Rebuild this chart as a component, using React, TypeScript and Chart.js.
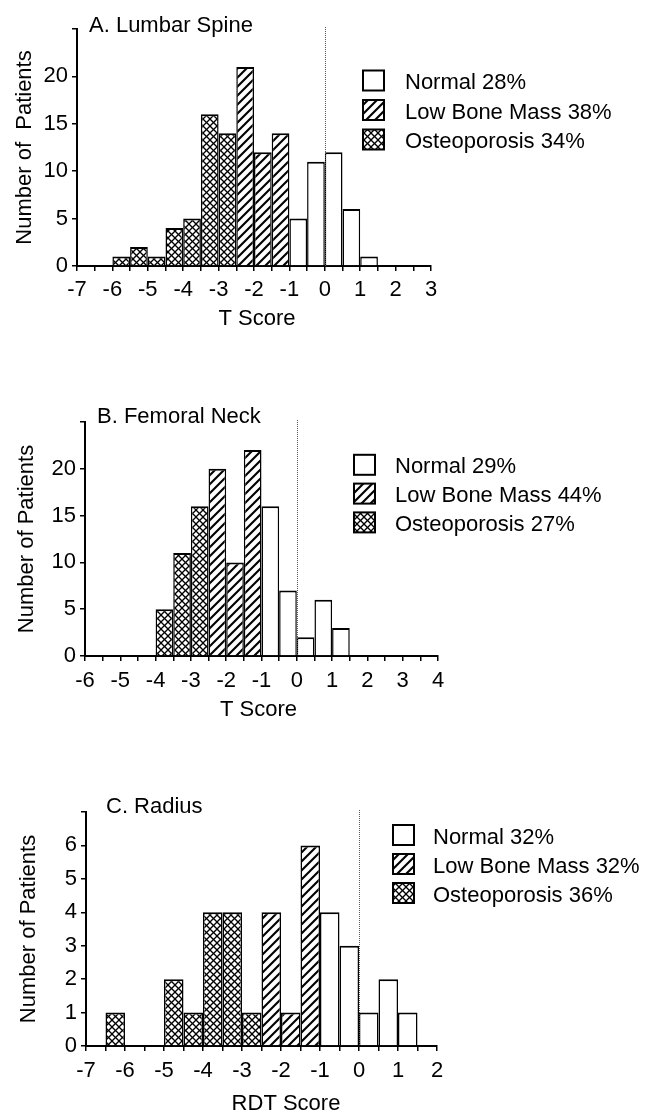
import React, { useEffect, useRef } from 'react';
import { Chart, registerables } from 'chart.js';

Chart.register(...registerables);

const FONT = '"Liberation Sans", Arial, Helvetica, sans-serif';

const legendCategories = ['Normal', 'Low Bone Mass', 'Osteoporosis'];

// A. Lumbar Spine (bin centres of 0.5-wide bins)
const lumbarOsteoBins = [-5.75, -5.25, -4.75, -4.25, -3.75, -3.25, -2.75];
const lumbarOsteoCounts = [1, 2, 1, 4, 5, 16, 14];
const lumbarLowBins = [-2.25, -1.75, -1.25];
const lumbarLowCounts = [21, 12, 14];
const lumbarNormalBins = [-0.75, -0.25, 0.25, 0.75, 1.25];
const lumbarNormalCounts = [5, 11, 12, 6, 1];
const lumbarPercents = [28, 38, 34];
const lumbarXRange = [-7, 3];
const lumbarYRange = [0, 25, 5];

// B. Femoral Neck
const femoralOsteoBins = [-3.75, -3.25, -2.75];
const femoralOsteoCounts = [5, 11, 16];
const femoralLowBins = [-2.25, -1.75, -1.25];
const femoralLowCounts = [20, 10, 22];
const femoralNormalBins = [-0.75, -0.25, 0.25, 0.75, 1.25];
const femoralNormalCounts = [16, 7, 2, 6, 3];
const femoralPercents = [29, 44, 27];
const femoralXRange = [-6, 4];
const femoralYRange = [0, 25, 5];

// C. Radius
const radiusOsteoBins = [-6.25, -4.75, -4.25, -3.75, -3.25, -2.75];
const radiusOsteoCounts = [1, 2, 1, 4, 4, 1];
const radiusLowBins = [-2.25, -1.75, -1.25];
const radiusLowCounts = [4, 1, 6];
const radiusNormalBins = [-0.75, -0.25, 0.25, 0.75, 1.25];
const radiusNormalCounts = [4, 3, 1, 2, 1];
const radiusPercents = [32, 32, 36];
const radiusXRange = [-7, 2];
const radiusYRange = [0, 7, 1];

const panels = [
  {
    title: 'A. Lumbar Spine', xTitle: 'T Score', yTitle: 'Number of  Patients',
    xRange: lumbarXRange, yRange: lumbarYRange,
    series: [[lumbarNormalBins, lumbarNormalCounts], [lumbarLowBins, lumbarLowCounts], [lumbarOsteoBins, lumbarOsteoCounts]],
    percents: lumbarPercents,
    box: { top: 0, height: 370, left: 77, right: 431, areaTop: 29, areaBottom: 266,
      titleX: 89, titleY: 31.7, xTitleX: 257, xTitleY: 318.6, yTitlePad: 13.7, xTickPad: 7.5,
      legendBoxX: 363, legendTextX: 405, legendTop: 70.5, legendStep: 29.5 },
  },
  {
    title: 'B. Femoral Neck', xTitle: 'T Score', yTitle: 'Number of Patients',
    xRange: femoralXRange, yRange: femoralYRange,
    series: [[femoralNormalBins, femoralNormalCounts], [femoralLowBins, femoralLowCounts], [femoralOsteoBins, femoralOsteoCounts]],
    percents: femoralPercents,
    box: { top: 370, height: 370, left: 85, right: 438, areaTop: 52, areaBottom: 286,
      titleX: 97, titleY: 53.3, xTitleX: 258.5, xTitleY: 340, yTitlePad: 16.4, xTickPad: 9,
      legendBoxX: 354, legendTextX: 395, legendTop: 84.8, legendStep: 28.8 },
  },
  {
    title: 'C. Radius', xTitle: 'RDT Score', yTitle: 'Number of Patients',
    xRange: radiusXRange, yRange: radiusYRange,
    series: [[radiusNormalBins, radiusNormalCounts], [radiusLowBins, radiusLowCounts], [radiusOsteoBins, radiusOsteoCounts]],
    percents: radiusPercents,
    box: { top: 740, height: 374, left: 86, right: 437, areaTop: 72, areaBottom: 306,
      titleX: 106, titleY: 73.3, xTitleX: 286, xTitleY: 363.6, yTitlePad: 18, xTickPad: 9.3,
      legendBoxX: 393, legendTextX: 433, legendTop: 85, legendStep: 29 },
  },
];

function makePattern(kind: string): any {
  const size = kind === 'hatch' ? 9 : 7;
  const c = document.createElement('canvas');
  c.width = size;
  c.height = size;
  const g = c.getContext('2d') as CanvasRenderingContext2D;
  g.fillStyle = '#ffffff';
  g.fillRect(0, 0, size, size);
  g.strokeStyle = '#000000';
  g.lineWidth = kind === 'hatch' ? 2.1 : 1.3;
  const seg = (x1: number, y1: number, x2: number, y2: number) => {
    g.beginPath();
    g.moveTo(x1, y1);
    g.lineTo(x2, y2);
    g.stroke();
  };
  // "/" direction
  seg(-1, size + 1, size + 1, -1);
  seg(-2, 2, 2, -2);
  seg(size - 2, size + 2, size + 2, size - 2);
  if (kind === 'cross') {
    // "\" direction
    seg(-1, -1, size + 1, size + 1);
    seg(-2, size - 2, 2, size + 2);
    seg(size - 2, -2, size + 2, 2);
  }
  return g.createPattern(c, 'repeat');
}

function Panel({ p }: { p: any }) {
  const ref = useRef<HTMLCanvasElement | null>(null);
  useEffect(() => {
    const canvas = ref.current;
    if (!canvas) return;
    const b = p.box;
    const fills = ['#ffffff', makePattern('hatch'), makePattern('cross')];
    const [xMin, xMax] = p.xRange;
    const [yMin, yMax, yStep] = p.yRange;

    const datasets = p.series.map((s: any, i: number) => ({
      label: legendCategories[i],
      data: s[0].map((x: number, j: number) => ({ x, y: s[1][j] })),
      backgroundColor: fills[i],
      borderColor: '#000000',
      borderWidth: { top: 2, left: 1.5, right: 1.5, bottom: 0 },
      grouped: false,
      barPercentage: 1,
      categoryPercentage: 1,
      inflateAmount: 0,
    }));

    const decor = {
      id: 'decor',
      afterDatasetsDraw(chart: any) {
        const { ctx, chartArea, scales } = chart;
        const x0 = Math.round(scales.x.getPixelForValue(0)) + 0.5;
        ctx.save();
        ctx.strokeStyle = '#555555';
        ctx.lineWidth = 1;
        ctx.setLineDash([1, 1]);
        ctx.beginPath();
        ctx.moveTo(x0, chartArea.top - 2);
        ctx.lineTo(x0, chartArea.bottom);
        ctx.stroke();
        ctx.restore();
      },
      afterDraw(chart: any) {
        const { ctx } = chart;
        ctx.save();
        ctx.fillStyle = '#000000';
        ctx.font = '22px ' + FONT;
        ctx.textAlign = 'left';
        ctx.textBaseline = 'alphabetic';
        ctx.fillText(p.title, b.titleX, b.titleY);
        ctx.textAlign = 'center';
        ctx.textBaseline = 'middle';
        ctx.fillText(p.xTitle, b.xTitleX, b.xTitleY);
        // legend
        ctx.textAlign = 'left';
        ctx.textBaseline = 'alphabetic';
        legendCategories.forEach((name, i) => {
          const top = b.legendTop + i * b.legendStep;
          ctx.fillStyle = fills[i];
          ctx.fillRect(b.legendBoxX, top, 21, 20);
          ctx.strokeStyle = '#000000';
          ctx.lineWidth = 2;
          ctx.setLineDash([]);
          ctx.strokeRect(b.legendBoxX, top, 21, 20);
          ctx.fillStyle = '#000000';
          ctx.fillText(name + ' ' + p.percents[i] + '%', b.legendTextX, top + 18.5);
        });
        ctx.restore();
      },
    };

    const chart = new Chart(canvas, {
      type: 'bar',
      data: { datasets },
      plugins: [decor],
      options: {
        animation: false,
        responsive: false,
        events: [],
        layout: { padding: { top: b.areaTop, left: 0, right: 652 - b.right, bottom: 0 } },
        plugins: { legend: { display: false }, tooltip: { enabled: false }, title: { display: false } },
        scales: {
          x: {
            type: 'linear',
            min: xMin,
            max: xMax,
            offset: false,
            z: 1,
            grid: { display: true, offset: false, drawOnChartArea: false, drawTicks: true, tickLength: 5, color: '#000000', lineWidth: 1.5 },
            border: { display: true, color: '#000000', width: 2 },
            ticks: {
              stepSize: 0.5,
              autoSkip: false,
              maxRotation: 0,
              minRotation: 0,
              padding: b.xTickPad,
              color: '#000000',
              font: { family: FONT, size: 22, lineHeight: 1 },
              callback: (v: any) => (Number.isInteger(v) ? String(v) : ''),
            },
            title: { display: false },
            afterFit: (scale: any) => {
              scale.height = b.height - b.areaBottom;
              scale.paddingLeft = 0;
              scale.paddingRight = 0;
            },
          },
          y: {
            type: 'linear',
            min: yMin,
            max: yMax,
            z: 1,
            grid: { display: true, drawOnChartArea: false, drawTicks: true, tickLength: 5, color: '#000000', lineWidth: 1.5 },
            border: { display: true, color: '#000000', width: 2 },
            ticks: {
              stepSize: yStep,
              padding: 4,
              color: '#000000',
              font: { family: FONT, size: 22, lineHeight: 1 },
              callback: (v: any) => (v === yMax ? '' : String(v)),
            },
            title: {
              display: true,
              text: p.yTitle,
              color: '#000000',
              font: { family: FONT, size: 22, lineHeight: 1 },
              padding: { top: b.yTitlePad, bottom: 0 },
            },
            afterFit: (scale: any) => {
              scale.width = b.left;
              scale.paddingTop = 0;
              scale.paddingBottom = 0;
            },
          },
        },
      } as any,
    });
    return () => chart.destroy();
  }, [p]);

  return (
    <canvas
      ref={ref}
      width={652}
      height={p.box.height}
      style={{ position: 'absolute', left: 0, top: p.box.top, width: 652, height: p.box.height, display: 'block' }}
    />
  );
}

export default function App() {
  return (
    <div style={{ position: 'absolute', left: 0, top: 0, width: 652, height: 1114, background: '#ffffff', overflow: 'hidden' }}>
      {panels.map((p, i) => (
        <Panel key={i} p={p} />
      ))}
    </div>
  );
}
